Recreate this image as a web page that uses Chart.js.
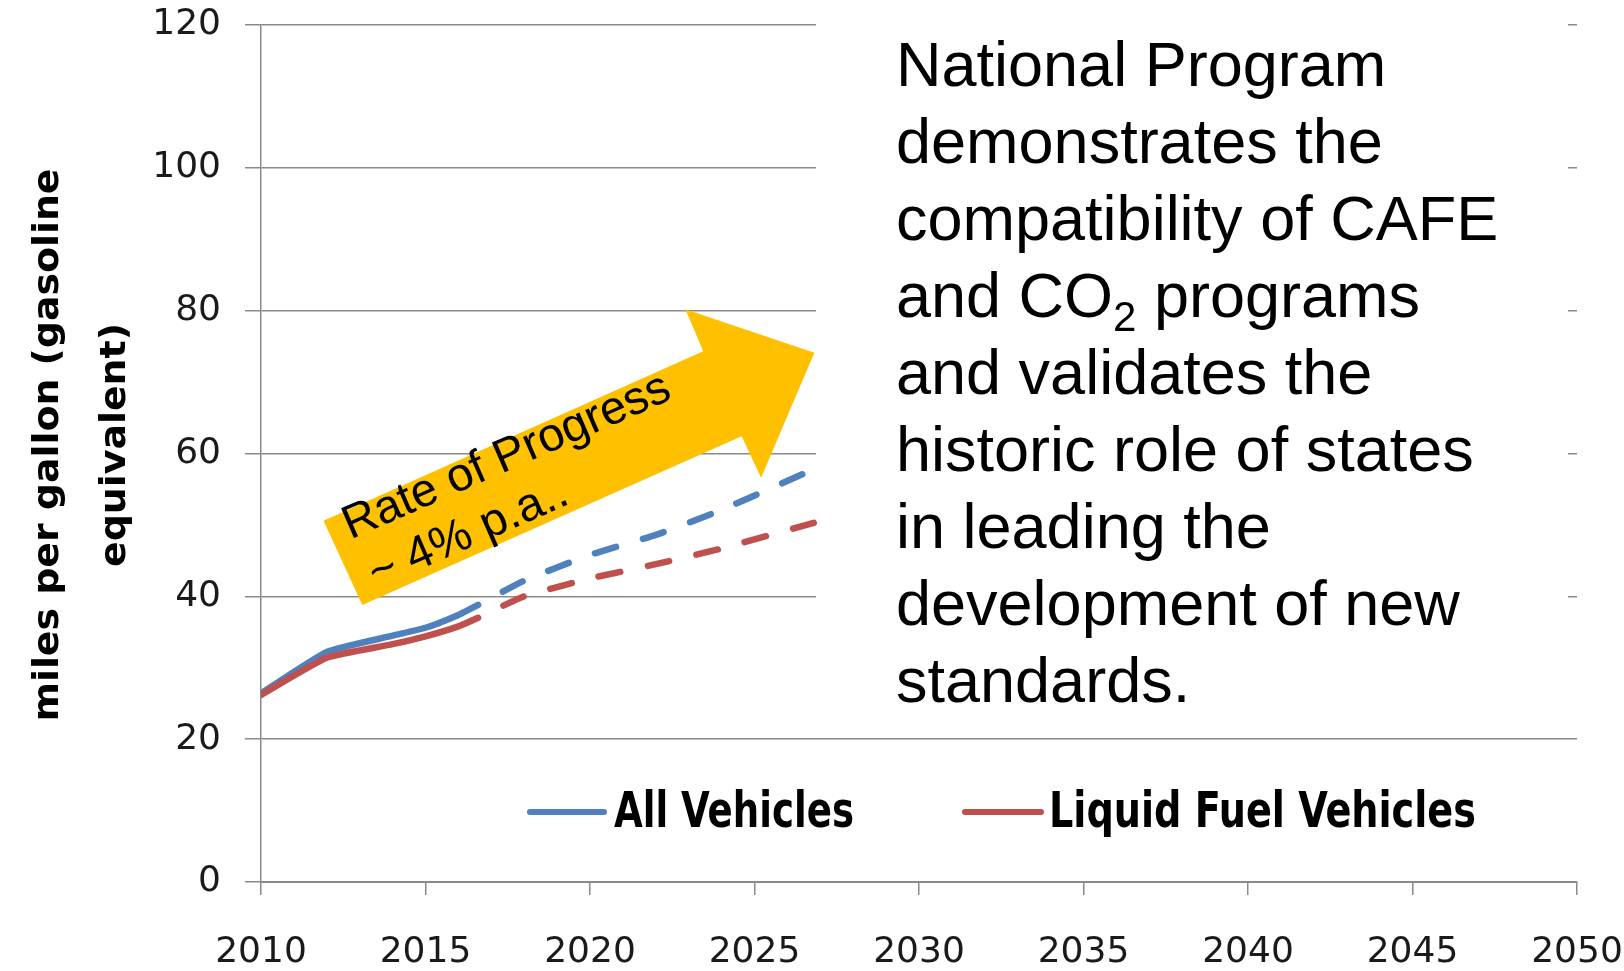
<!DOCTYPE html>
<html lang="en">
  <head>
    <meta charset="UTF-8" />
    <title>Fuel economy - rate of progress</title>
    <script src="https://cdn.jsdelivr.net/npm/chart.js@4.4.0/dist/chart.umd.min.js"></script>
    <style>
      body { margin: 0; background: #fff; }
      #wrap { width: 1624px; height: 971px; }
    </style>
  </head>
  <body>
    <div id="wrap"><canvas id="myChart" width="1624" height="971"></canvas></div>

    <script>
      // data
      const years = [2010, 2012, 2014, 2015, 2016, 2016.6, 2018, 2020, 2022, 2024, 2026.8];
      const allVehicles = [26.4, 32.2, 34.5, 35.6, 37.4, 38.8, 42.2, 45.8, 48.6, 52.1, 57.8];
      const liquidFuel = [26.2, 31.4, 33.3, 34.4, 35.8, 37.0, 40.0, 42.5, 44.5, 46.7, 50.3];
      const projectionFrom = 2016.6; // dashed after this year
      const seriesNames = ['All Vehicles', 'Liquid Fuel Vehicles'];
      const yTitle = ['miles per gallon (gasoline', 'equivalent)'];
      const arrowLabel = ['Rate of Progress', '~ 4% p.a..'];
      const noteLines = [
        'National Program',
        'demonstrates the',
        'compatibility of CAFE',
        ['and CO', '2', ' programs'],
        'and validates the',
        'historic role of states',
        'in leading the',
        'development of new',
        'standards.'
      ];
      // arrow outline in (year, mpg)
      const arrowShape = [
        [2011.90, 50.6], [2023.44, 74.3], [2022.90, 80.2], [2026.82, 74.1],
        [2025.20, 56.6], [2024.61, 62.4], [2013.08, 38.8]
      ];

      const BLUE = '#4F81BD';
      const RED = '#C0504D';
      const GRID = '#8a8a8a';

      const dashed = ctx => ctx.p0.parsed.x >= projectionFrom - 0.01 ? [22, 28] : undefined;
      const dashOff = ctx => ctx.p0.parsed.x >= projectionFrom - 0.01 ? 22 : 0;

      function stretchedText(ctx, text, x, y, width) {
        const w = ctx.measureText(text).width;
        ctx.save();
        ctx.translate(x, y);
        ctx.scale(width / w, 1);
        ctx.fillText(text, 0, 0);
        ctx.restore();
      }

      const decorations = {
        id: 'decorations',
        beforeDatasetsDraw(chart) {
          const { ctx, scales: { x, y } } = chart;
          // white panel behind the note
          ctx.save();
          ctx.fillStyle = '#fff';
          ctx.fillRect(816, 0, 752, 722);

          // arrow
          ctx.fillStyle = '#FFC000';
          ctx.beginPath();
          arrowShape.forEach((p, i) => {
            const px = x.getPixelForValue(p[0]), py = y.getPixelForValue(p[1]);
            if (i === 0) ctx.moveTo(px, py); else ctx.lineTo(px, py);
          });
          ctx.closePath();
          ctx.fill();

          // arrow label
          ctx.fillStyle = '#000';
          ctx.font = '47px "Liberation Sans", Arial, sans-serif';
          ctx.textBaseline = 'alphabetic';
          ctx.textAlign = 'left';
          ctx.translate(x.getPixelForValue(2012.72), y.getPixelForValue(47.95));
          ctx.rotate(-23.6 * Math.PI / 180);
          ctx.fillText(arrowLabel[0], 0, 0);
          ctx.fillText(arrowLabel[1], 4, 55);
          ctx.restore();
        },
        afterDraw(chart) {
          const { ctx } = chart;
          ctx.save();
          ctx.fillStyle = '#000';
          ctx.textBaseline = 'alphabetic';
          ctx.textAlign = 'left';

          // note text
          const big = '63px "Liberation Sans", Arial, sans-serif';
          const small = '42px "Liberation Sans", Arial, sans-serif';
          noteLines.forEach((line, i) => {
            const yy = 86 + i * 77;
            ctx.font = big;
            if (typeof line === 'string') {
              ctx.fillText(line, 896, yy);
            } else {
              let xx = 896;
              ctx.fillText(line[0], xx, yy);
              xx += ctx.measureText(line[0]).width;
              ctx.font = small;
              ctx.fillText(line[1], xx, yy + 14);
              xx += ctx.measureText(line[1]).width;
              ctx.font = big;
              ctx.fillText(line[2], xx, yy);
            }
          });

          // y axis title
          ctx.font = 'bold 36px "Liberation Sans Narrow", "DejaVu Sans Condensed", sans-serif';
          ctx.textAlign = 'center';
          ctx.textBaseline = 'middle';
          const s = 553 / ctx.measureText(yTitle[0]).width;
          [[yTitle[0], 49], [yTitle[1], 116]].forEach(([t, cx]) => {
            ctx.save();
            ctx.translate(cx, 445);
            ctx.rotate(-Math.PI / 2);
            ctx.scale(s, 1);
            ctx.fillText(t, 0, 0);
            ctx.restore();
          });

          // legend
          ctx.textAlign = 'left';
          ctx.textBaseline = 'alphabetic';
          ctx.font = 'bold 50px "Liberation Sans Narrow", "DejaVu Sans Condensed", sans-serif';
          const items = [
            { x0: 530, x1: 604, tx: 614, w: 240 },
            { x0: 965, x1: 1041, tx: 1049, w: 427 }
          ];
          chart.data.datasets.forEach((ds, i) => {
            const it = items[i];
            ctx.strokeStyle = ds.borderColor;
            ctx.lineWidth = 6;
            ctx.lineCap = 'round';
            ctx.beginPath();
            ctx.moveTo(it.x0, 812);
            ctx.lineTo(it.x1, 812);
            ctx.stroke();
            stretchedText(ctx, ds.label, it.tx, 827, it.w);
          });
          ctx.restore();
        }
      };

      const ctx = document.getElementById('myChart').getContext('2d');
      const myChart = new Chart(ctx, {
        type: 'line',
        data: {
          datasets: [
            {
              label: seriesNames[0],
              data: years.map((yr, i) => ({ x: yr, y: allVehicles[i] })),
              borderColor: BLUE,
              order: 2
            },
            {
              label: seriesNames[1],
              data: years.map((yr, i) => ({ x: yr, y: liquidFuel[i] })),
              borderColor: RED,
              order: 1
            }
          ]
        },
        options: {
          responsive: false,
          devicePixelRatio: 1,
          animation: false,
          layout: { padding: 0 },
          elements: {
            point: { radius: 0 },
            line: { borderWidth: 6.5, borderCapStyle: 'round', borderJoinStyle: 'round', tension: 0.15 }
          },
          datasets: {
            line: { segment: { borderDash: dashed, borderDashOffset: dashOff } }
          },
          plugins: {
            legend: { display: false },
            tooltip: { enabled: false }
          },
          scales: {
            x: {
              type: 'linear',
              min: 2010,
              max: 2050,
              afterFit: s => {
                s.height = 89;
                s.paddingLeft = 0;
                s.paddingRight = 47;
              },
              ticks: {
                stepSize: 5,
                callback: v => String(v),
                font: { family: '"DejaVu Sans", Verdana, sans-serif', size: 36 },
                color: '#1a1a1a',
                padding: 36,
                maxRotation: 0
              },
              grid: { drawOnChartArea: false, drawTicks: true, tickLength: 13, color: GRID, lineWidth: 1.5 },
              border: { display: true, color: GRID, width: 2 }
            },
            y: {
              min: 0,
              max: 120,
              afterFit: s => {
                s.width = 261;
                s.paddingTop = 25;
                s.paddingBottom = 0;
              },
              ticks: {
                stepSize: 20,
                font: { family: '"DejaVu Sans", Verdana, sans-serif', size: 36 },
                color: '#1a1a1a',
                padding: 24
              },
              grid: { color: GRID, lineWidth: 1.5, tickLength: 16 },
              border: { display: true, color: GRID, width: 1.5 }
            }
          }
        },
        plugins: [decorations]
      });
    </script>
  </body>
</html>
